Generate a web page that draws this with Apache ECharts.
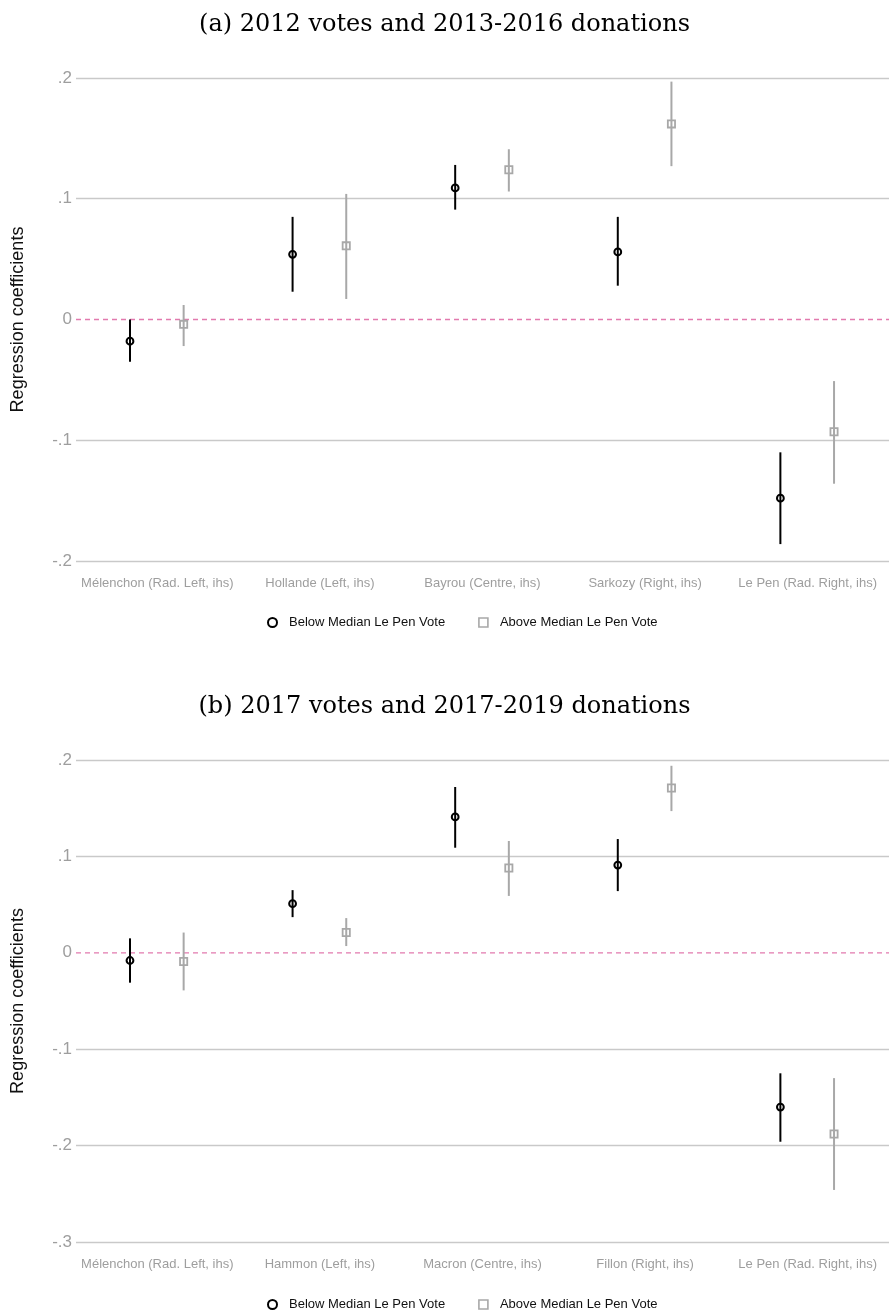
<!DOCTYPE html>
<html>
<head>
<meta charset="utf-8">
<script src="https://cdn.jsdelivr.net/npm/echarts@6/dist/echarts.min.js"></script>
<style>
html,body{margin:0;padding:0;background:#fff;}
#chart{width:889px;height:1312px;}
</style>
</head>
<body>
<div id="chart"></div>
<script>
// ---- Data ----
const titleA = '(a) 2012 votes and 2013-2016 donations';
const titleB = '(b) 2017 votes and 2017-2019 donations';
const categoriesA = ['Mélenchon (Rad. Left, ihs)', 'Hollande (Left, ihs)', 'Bayrou (Centre, ihs)', 'Sarkozy (Right, ihs)', 'Le Pen (Rad. Right, ihs)'];
const categoriesB = ['Mélenchon (Rad. Left, ihs)', 'Hammon (Left, ihs)', 'Macron (Centre, ihs)', 'Fillon (Right, ihs)', 'Le Pen (Rad. Right, ihs)'];
const seriesNames = ['Below Median Le Pen Vote', 'Above Median Le Pen Vote'];

const aBelowEst = [-0.018, 0.054, 0.109, 0.056, -0.148];
const aBelowLo  = [-0.035, 0.023, 0.091, 0.028, -0.186];
const aBelowHi  = [ 0.000, 0.085, 0.128, 0.085, -0.110];
const aAboveEst = [-0.004, 0.061, 0.124, 0.162, -0.093];
const aAboveLo  = [-0.022, 0.017, 0.106, 0.127, -0.136];
const aAboveHi  = [ 0.012, 0.104, 0.141, 0.197, -0.051];

const bBelowEst = [-0.008, 0.051, 0.141, 0.091, -0.160];
const bBelowLo  = [-0.031, 0.037, 0.109, 0.064, -0.196];
const bBelowHi  = [ 0.015, 0.065, 0.172, 0.118, -0.125];
const bAboveEst = [-0.009, 0.021, 0.088, 0.171, -0.188];
const bAboveLo  = [-0.039, 0.007, 0.059, 0.147, -0.246];
const bAboveHi  = [ 0.021, 0.036, 0.116, 0.194, -0.130];

const yTicksA = [-0.2, -0.1, 0, 0.1, 0.2];
const yTickLabelsA = ['-.2', '-.1', '0', '.1', '.2'];
const yTicksB = [-0.3, -0.2, -0.1, 0, 0.1, 0.2];
const yTickLabelsB = ['-.3', '-.2', '-.1', '0', '.1', '.2'];

// ---- Styles ----
const BLACK = '#000000';
const GRAY = '#a8a8a8';
const GRID_COLOR = '#c9c9c9';
const ZERO_COLOR = '#e27aae';
const SANS = 'Liberation Sans, Arial, sans-serif';

function rows(est, lo, hi) {
  return est.map((e, i) => [i, e, lo[i], hi[i]]);
}

function makeRender(kind) {
  const frac = kind === 'circle' ? -0.168 : 0.162;
  const color = kind === 'circle' ? BLACK : GRAY;
  return function (params, api) {
    const cat = api.value(0);
    const pE = api.coord([cat, api.value(1)]);
    const pL = api.coord([cat, api.value(2)]);
    const pH = api.coord([cat, api.value(3)]);
    const band = api.size([1, 0])[0];
    const x = pE[0] + frac * band;
    const children = [{
      type: 'line',
      shape: { x1: x, y1: pL[1], x2: x, y2: pH[1] },
      style: { stroke: color, lineWidth: 2 }
    }];
    if (kind === 'circle') {
      children.push({
        type: 'circle',
        shape: { cx: x, cy: pE[1], r: 3.4 },
        style: { fill: 'rgba(0,0,0,0)', stroke: color, lineWidth: 2 }
      });
    } else {
      children.push({
        type: 'rect',
        shape: { x: x - 3.6, y: pE[1] - 3.6, width: 7.2, height: 7.2 },
        style: { fill: 'rgba(0,0,0,0)', stroke: color, lineWidth: 1.8 }
      });
    }
    return { type: 'group', children: children };
  };
}

// zero reference line drawn from the y-scale across the whole plot width
function makeZeroRender(nCats) {
  return function (params, api) {
    const left = api.coord([0, 0]);
    const band = api.size([1, 0])[0];
    const x1 = left[0] - band / 2;
    const x2 = x1 + band * nCats;
    return {
      type: 'line',
      shape: { x1: x1, y1: left[1], x2: x2, y2: left[1] },
      style: { stroke: ZERO_COLOR, lineWidth: 1.3, lineDash: [5, 4] }
    };
  };
}

function labelFor(ticks, labels) {
  return function (v) {
    for (let i = 0; i < ticks.length; i++) {
      if (Math.abs(ticks[i] - v) < 1e-9) return labels[i];
    }
    return '';
  };
}

function splitColors(ticks) {
  return ticks.map(t => Math.abs(t) < 1e-9 ? 'rgba(0,0,0,0)' : GRID_COLOR);
}

function legendCfg(top) {
  return {
    top: top,
    left: 262,
    itemWidth: 9,
    itemHeight: 9,
    itemGap: 33,
    textStyle: { fontFamily: SANS, fontSize: 13, color: '#111', padding: [0, 0, 0, 7] },
    data: [
      { name: seriesNames[0], icon: 'circle', itemStyle: { color: 'rgba(0,0,0,0)', borderColor: BLACK, borderWidth: 2 } },
      { name: seriesNames[1], icon: 'rect', itemStyle: { color: 'rgba(0,0,0,0)', borderColor: GRAY, borderWidth: 1.6 } }
    ]
  };
}

function xAxisCfg(gridIndex, cats) {
  return {
    type: 'category',
    gridIndex: gridIndex,
    data: cats,
    boundaryGap: true,
    axisLine: { show: false },
    axisTick: { show: false },
    splitLine: { show: false },
    axisLabel: { color: '#9e9e9e', fontFamily: SANS, fontSize: 13, margin: 16, interval: 0 }
  };
}

function yAxisCfg(gridIndex, ticks, labels) {
  return {
    type: 'value',
    gridIndex: gridIndex,
    min: ticks[0],
    max: ticks[ticks.length - 1],
    interval: 0.1,
    axisLine: { show: false },
    axisTick: { show: false },
    splitLine: { show: true, lineStyle: { color: splitColors(ticks), width: 1.3 } },
    axisLabel: { color: '#9e9e9e', fontFamily: SANS, fontSize: 17, margin: 4, formatter: labelFor(ticks, labels) },
    name: 'Regression coefficients',
    nameLocation: 'middle',
    nameRotate: 90,
    nameGap: 49,
    nameTextStyle: { fontFamily: SANS, fontSize: 18, color: '#111' }
  };
}

const chart = echarts.init(document.getElementById('chart'), null, { renderer: 'canvas' });
const option = {
  backgroundColor: '#ffffff',
  animation: false,
  title: [
    { text: titleA, left: 'center', top: 8, textStyle: { fontFamily: 'DejaVu Serif, serif', fontWeight: 'normal', fontSize: 24, color: '#000' } },
    { text: titleB, left: 'center', top: 690, textStyle: { fontFamily: 'DejaVu Serif, serif', fontWeight: 'normal', fontSize: 24, color: '#000' } }
  ],
  legend: [legendCfg(611), legendCfg(1293)],
  grid: [
    { left: 76, width: 818, top: 78, height: 483 },
    { left: 76, width: 818, top: 760, height: 482 }
  ],
  xAxis: [xAxisCfg(0, categoriesA), xAxisCfg(1, categoriesB)],
  yAxis: [yAxisCfg(0, yTicksA, yTickLabelsA), yAxisCfg(1, yTicksB, yTickLabelsB)],
  series: [
    { name: 'zeroA', type: 'custom', xAxisIndex: 0, yAxisIndex: 0, renderItem: makeZeroRender(categoriesA.length),
      encode: { x: 0, y: 1 }, data: [[0, 0]], z: 2, silent: true },
    { name: seriesNames[0], type: 'custom', xAxisIndex: 0, yAxisIndex: 0, renderItem: makeRender('circle'),
      encode: { x: 0, y: [1, 2, 3] }, data: rows(aBelowEst, aBelowLo, aBelowHi), z: 3 },
    { name: seriesNames[1], type: 'custom', xAxisIndex: 0, yAxisIndex: 0, renderItem: makeRender('rect'),
      encode: { x: 0, y: [1, 2, 3] }, data: rows(aAboveEst, aAboveLo, aAboveHi), z: 3 },
    { name: 'zeroB', type: 'custom', xAxisIndex: 1, yAxisIndex: 1, renderItem: makeZeroRender(categoriesB.length),
      encode: { x: 0, y: 1 }, data: [[0, 0]], z: 2, silent: true },
    { name: seriesNames[0], type: 'custom', xAxisIndex: 1, yAxisIndex: 1, renderItem: makeRender('circle'),
      encode: { x: 0, y: [1, 2, 3] }, data: rows(bBelowEst, bBelowLo, bBelowHi), z: 3 },
    { name: seriesNames[1], type: 'custom', xAxisIndex: 1, yAxisIndex: 1, renderItem: makeRender('rect'),
      encode: { x: 0, y: [1, 2, 3] }, data: rows(bAboveEst, bAboveLo, bAboveHi), z: 3 }
  ]
};
chart.setOption(option);
</script>
</body>
</html>
